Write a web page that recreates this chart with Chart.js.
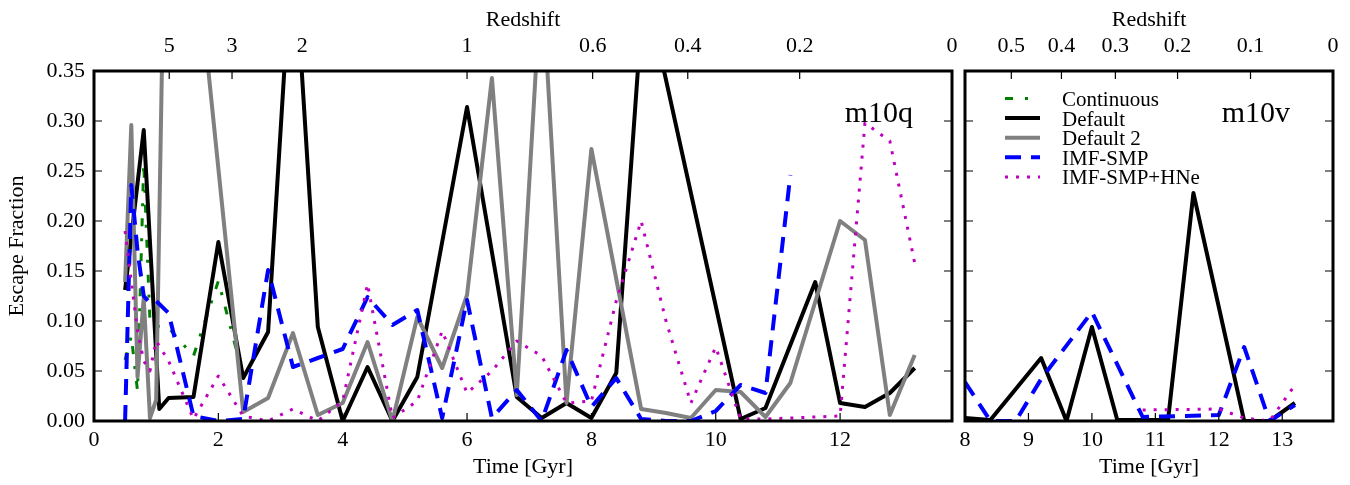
<!DOCTYPE html>
<html>
<head>
<meta charset="utf-8">
<script src="https://cdn.jsdelivr.net/npm/chart.js@4.4.1/dist/chart.umd.min.js"></script>
<style>
  body { margin: 0; background: #fff; }
  #wrap { position: relative; width: 1350px; height: 485px; }
  canvas { position: absolute; top: 0; }
  #q { left: 0; }
  #v { left: 958px; }
</style>
</head>
<body>
<div id="wrap">
  <canvas id="q" width="958" height="485"></canvas>
  <canvas id="v" width="392" height="485"></canvas>
</div>
<script>
// ---- tick labels ----
const yTicks = [0, 0.05, 0.10, 0.15, 0.20, 0.25, 0.30, 0.35];
const timeTicksQ = [0, 2, 4, 6, 8, 10, 12];
const timeTicksV = [8, 9, 10, 11, 12, 13];
const zLabelsQ = ['5', '3', '2', '1', '0.6', '0.4', '0.2', '0'];
const zTimesQ = [1.21, 2.22, 3.35, 6.0, 8.02, 9.55, 11.35, 13.8];
const zLabelsV = ['0.5', '0.4', '0.3', '0.2', '0.1', '0'];
const zTimesV = [8.73, 9.52, 10.37, 11.35, 12.5, 13.8];

// ---- m10q (left panel) ----
const qContT = [0.5, 0.6, 0.7, 0.8, 0.9, 1.0, 1.2, 1.6, 2.0, 2.4];
const qContV = [0.061, 0.085, 0.03, 0.258, 0.1, 0.095, 0.093, 0.065, 0.14, 0.045];

const qDefT = [0.5, 0.8, 1.05, 1.2, 1.6, 2.0, 2.4, 2.8, 3.2, 3.6, 4.0, 4.4, 4.8, 5.2, 6.0, 6.8, 7.2, 7.6, 8.0, 8.4, 8.85, 10.4, 10.8, 11.6, 12.0, 12.4, 12.8, 13.2];
const qDefV = [0.131, 0.291, 0.012, 0.023, 0.024, 0.179, 0.043, 0.089, 0.49, 0.094, 0.0, 0.054, 0.0, 0.044, 0.314, 0.024, 0.003, 0.018, 0.003, 0.048, 0.44, 0.002, 0.013, 0.139, 0.018, 0.014, 0.028, 0.053];

const qDef2T = [0.5, 0.6, 0.7, 0.8, 0.9, 1.0, 1.2, 2.4, 2.8, 3.2, 3.6, 4.0, 4.4, 4.8, 5.2, 5.6, 6.0, 6.4, 6.8, 7.2, 7.6, 8.0, 8.8, 9.2, 9.6, 10.0, 10.4, 10.8, 11.2, 12.0, 12.4, 12.8, 13.2];
const qDef2V = [0.139, 0.296, 0.044, 0.123, 0.003, 0.021, 0.74, 0.009, 0.023, 0.088, 0.006, 0.018, 0.079, 0.0, 0.104, 0.053, 0.126, 0.343, 0.026, 0.45, 0.018, 0.272, 0.012, 0.008, 0.003, 0.031, 0.029, 0.004, 0.038, 0.2, 0.181, 0.006, 0.066];

const qImfT = [0.5, 0.6, 0.7, 0.8, 0.9, 1.0, 1.2, 1.6, 2.0, 2.4, 2.8, 3.2, 3.6, 4.0, 4.4, 4.8, 5.2, 5.6, 6.0, 6.4, 6.8, 7.2, 7.6, 8.0, 8.4, 8.8, 9.2, 9.6, 10.0, 10.4, 10.8, 11.2];
const qImfV = [0.0, 0.236, 0.17, 0.125, 0.118, 0.12, 0.108, 0.005, 0.0, 0.002, 0.151, 0.054, 0.063, 0.072, 0.124, 0.096, 0.111, 0.003, 0.121, 0.003, 0.031, 0.0, 0.071, 0.014, 0.043, 0.002, 0.0, 0.0, 0.01, 0.036, 0.028, 0.246];

const qHneT = [0.5, 0.6, 0.7, 0.8, 0.9, 1.0, 1.2, 1.6, 2.0, 2.4, 2.8, 3.2, 3.6, 4.0, 4.4, 4.8, 5.2, 5.6, 6.0, 6.4, 6.8, 7.2, 7.6, 8.0, 8.4, 8.8, 9.2, 9.6, 10.0, 10.4, 10.8, 11.2, 11.6, 12.0, 12.4, 12.8, 13.2];
const qHneV = [0.19, 0.14, 0.09, 0.06, 0.05, 0.08, 0.06, 0.002, 0.045, 0.005, 0.0, 0.012, 0.0, 0.02, 0.137, 0.003, 0.02, 0.09, 0.028, 0.05, 0.08, 0.065, 0.018, 0.02, 0.12, 0.2, 0.1, 0.018, 0.074, 0.002, 0.002, 0.003, 0.004, 0.005, 0.298, 0.28, 0.158];

// ---- m10v (right panel) ----
const vDefT = [8.0, 8.4, 9.2, 9.6, 10.0, 10.4, 11.2, 11.6, 12.4, 12.8, 13.2];
const vDefV = [0.003, 0.001, 0.063, 0.0, 0.094, 0.001, 0.001, 0.228, 0.0, 0.0, 0.018];

const vImfT = [8.0, 8.4, 8.8, 9.2, 10.0, 10.8, 12.0, 12.4, 12.8, 13.2];
const vImfV = [0.039, 0.0, 0.0, 0.042, 0.109, 0.004, 0.006, 0.074, 0.0, 0.016];

const vHneT = [10.8, 12.0, 12.4, 12.8, 13.2];
const vHneV = [0.011, 0.012, 0.003, 0.0, 0.036];

const FONT = '"Liberation Serif", "DejaVu Serif", serif';
Chart.defaults.font.family = FONT;
Chart.defaults.font.size = 22;
Chart.defaults.color = '#000';

function pts(t, v) {
  return t.map((x, i) => ({ x: x, y: v[i] }));
}

// line styles, in legend order
const styles = [
  { label: 'Continuous', borderColor: '#008000', borderWidth: 3, borderDash: [8, 12, 3, 12], order: 5 },
  { label: 'Default', borderColor: '#000000', borderWidth: 4, borderDash: [], order: 4 },
  { label: 'Default 2', borderColor: '#808080', borderWidth: 4, borderDash: [], order: 3 },
  { label: 'IMF-SMP', borderColor: '#0000ff', borderWidth: 4, borderDash: [16, 10], order: 2 },
  { label: 'IMF-SMP+HNe', borderColor: '#bf00bf', borderWidth: 3, borderDash: [3, 8], order: 1 }
];

function makeSets(list) {
  return list.map((d, i) => Object.assign({}, styles[i], {
    data: d,
    pointRadius: 0,
    tension: 0,
    fill: false,
    clip: 0,
    borderJoinStyle: 'round',
    borderCapStyle: 'butt'
  }));
}

// frame, inward ticks, panel name and legend
const framePlugin = {
  id: 'frame',
  afterDatasetsDraw(chart, args, opts) {
    const { ctx, chartArea: a, scales } = chart;
    ctx.save();
    ctx.setLineDash([]);
    ctx.strokeStyle = '#000';
    ctx.lineWidth = 1.2;
    ctx.beginPath();
    opts.xTicks.forEach(v => {
      const px = scales.x.getPixelForValue(v);
      ctx.moveTo(px, a.bottom); ctx.lineTo(px, a.bottom - 8);
    });
    opts.zTimes.forEach(v => {
      const px = scales.x2.getPixelForValue(v);
      ctx.moveTo(px, a.top); ctx.lineTo(px, a.top + 8);
    });
    yTicks.forEach(v => {
      const py = scales.y.getPixelForValue(v);
      ctx.moveTo(a.left, py); ctx.lineTo(a.left + 8, py);
      ctx.moveTo(a.right, py); ctx.lineTo(a.right - 8, py);
    });
    ctx.stroke();
    ctx.lineWidth = 3;
    ctx.strokeRect(a.left, a.top, a.right - a.left, a.bottom - a.top);

    ctx.fillStyle = '#000';
    ctx.font = '30px ' + FONT;
    ctx.textAlign = 'right';
    ctx.textBaseline = 'alphabetic';
    ctx.fillText(opts.name, a.right - opts.nameRight, a.top + 51);

    if (opts.legend) {
      ctx.font = '21px ' + FONT;
      ctx.textAlign = 'left';
      chart.data.datasets.forEach((ds, i) => {
        const yb = a.top + 35 + i * 19.6;
        ctx.strokeStyle = ds.borderColor;
        ctx.lineWidth = ds.borderWidth;
        ctx.setLineDash(ds.borderDash);
        ctx.beginPath();
        ctx.moveTo(a.left + 40, yb - 7.5);
        ctx.lineTo(a.left + 75, yb - 7.5);
        ctx.stroke();
        ctx.setLineDash([]);
        ctx.fillText(ds.label, a.left + 97, yb);
      });
    }
    ctx.restore();
  }
};

function fitX(h) {
  return ax => { ax.height = h; ax.paddingLeft = 0; ax.paddingRight = 0; };
}

function xAxes(min, ticks, zTimes, zLabels) {
  return {
    x: {
      type: 'linear', position: 'bottom', min: min, max: 13.8,
      afterBuildTicks: ax => { ax.ticks = ticks.map(v => ({ value: v })); },
      afterFit: fitX(64),
      grid: { display: false, drawTicks: false }, border: { display: false },
      ticks: { padding: 6, maxRotation: 0, autoSkip: false, callback: v => String(v) },
      title: { display: true, text: 'Time [Gyr]', padding: { top: 0, bottom: 5 } }
    },
    x2: {
      type: 'linear', position: 'top', min: min, max: 13.8,
      afterBuildTicks: ax => { ax.ticks = zTimes.map(v => ({ value: v })); },
      afterFit: fitX(71),
      grid: { display: false, drawTicks: false }, border: { display: false },
      ticks: { padding: 12, maxRotation: 0, autoSkip: false, callback: (v, i) => zLabels[i] },
      title: { display: true, text: 'Redshift', padding: { top: 7, bottom: 0 } }
    }
  };
}

const yAxis = {
  min: 0, max: 0.35,
  afterBuildTicks: ax => { ax.ticks = yTicks.map(v => ({ value: v })); },
  grid: { display: false, drawTicks: false }, border: { display: false }
};

new Chart(document.getElementById('q'), {
  type: 'line',
  data: {
    datasets: makeSets([
      pts(qContT, qContV), pts(qDefT, qDefV), pts(qDef2T, qDef2V),
      pts(qImfT, qImfV), pts(qHneT, qHneV)
    ])
  },
  options: {
    responsive: false,
    animation: false,
    layout: { padding: { left: 0, right: 6, top: 0, bottom: 0 } },
    plugins: {
      legend: { display: false }, tooltip: { enabled: false },
      frame: { xTicks: timeTicksQ, zTimes: zTimesQ, name: 'm10q', nameRight: 39, legend: false }
    },
    scales: Object.assign(xAxes(0, timeTicksQ, zTimesQ, zLabelsQ), {
      y: Object.assign({}, yAxis, {
        afterFit: ax => { ax.width = 94; },
        ticks: { padding: 9, callback: v => v.toFixed(2) },
        title: { display: true, text: 'Escape Fraction', padding: { top: 4, bottom: 0 } }
      })
    })
  },
  plugins: [framePlugin]
});

new Chart(document.getElementById('v'), {
  type: 'line',
  data: {
    datasets: makeSets([[], pts(vDefT, vDefV), [], pts(vImfT, vImfV), pts(vHneT, vHneV)])
  },
  options: {
    responsive: false,
    animation: false,
    layout: { padding: { left: 7, right: 17, top: 0, bottom: 0 } },
    plugins: {
      legend: { display: false }, tooltip: { enabled: false },
      frame: { xTicks: timeTicksV, zTimes: zTimesV, name: 'm10v', nameRight: 43, legend: true }
    },
    scales: Object.assign(xAxes(8, timeTicksV, zTimesV, zLabelsV), {
      y: Object.assign({}, yAxis, { display: false })
    })
  },
  plugins: [framePlugin]
});
</script>
</body>
</html>
